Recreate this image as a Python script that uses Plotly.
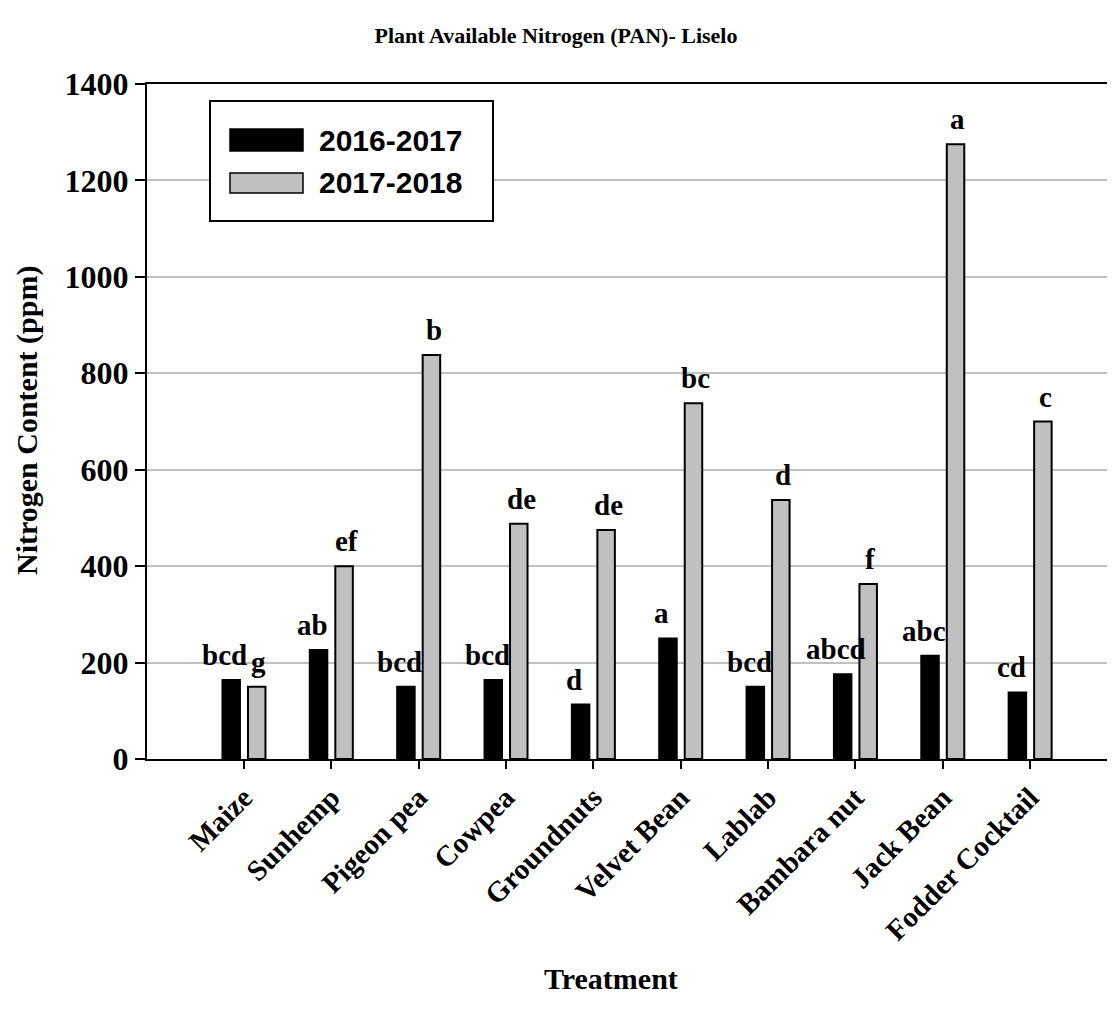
import plotly.graph_objects as go

categories = ["Maize", "Sunhemp", "Pigeon pea", "Cowpea", "Groundnuts",
              "Velvet Bean", "Lablab", "Bambara nut", "Jack Bean", "Fodder Cocktail"]
series_names = ["2016-2017", "2017-2018"]
values_2016 = [164, 226, 150, 164, 113, 250, 150, 176, 214, 138]
values_2017 = [150, 400, 838, 488, 475, 738, 537, 363, 1275, 700]
letters_2016 = ["bcd", "ab", "bcd", "bcd", "d", "a", "bcd", "abcd", "abc", "cd"]
letters_2017 = ["g", "ef", "b", "de", "de", "bc", "d", "f", "a", "c"]
y_ticks = [0, 200, 400, 600, 800, 1000, 1200, 1400]

SERIF = "Liberation Serif, Times New Roman, serif"
SANS = "Liberation Sans, Arial, sans-serif"
GREY = "#c0c0c0"

# The page body has an 8px margin; figure sized so that it fits the window exactly.
FIG_W, FIG_H = 1099, 1007
ML, MT, MR = 139, 76, 0
PLOT_H = 675
MB = FIG_H - MT - PLOT_H
PLOT_W = FIG_W - ML - MR
OFF = 8  # page offset

fig = go.Figure()
fig.add_trace(go.Bar(x=categories, y=values_2016, name=series_names[0],
                     marker=dict(color="black", line=dict(color="black", width=2)),
                     showlegend=False))
fig.add_trace(go.Bar(x=categories, y=values_2017, name=series_names[1],
                     marker=dict(color=GREY, line=dict(color="black", width=2)),
                     showlegend=False))

annotations = []
for cat, v, t in zip(categories, values_2016, letters_2016):
    annotations.append(dict(x=cat, y=v, text="<b>%s</b>" % t, xref="x", yref="y",
                            xanchor="center", yanchor="bottom", xshift=-19, yshift=7,
                            showarrow=False, font=dict(family=SERIF, size=29, color="black")))
for cat, v, t in zip(categories, values_2017, letters_2017):
    annotations.append(dict(x=cat, y=v, text="<b>%s</b>" % t, xref="x", yref="y",
                            xanchor="center", yanchor="bottom", xshift=15, yshift=7,
                            showarrow=False, font=dict(family=SERIF, size=29, color="black")))

# helpers: screen pixel -> paper coordinates of the plot area
def px(xs):
    return (xs - OFF - ML) / PLOT_W
def py(ys):
    return (MT + PLOT_H - (ys - OFF)) / PLOT_H

# Axis titles
annotations.append(dict(text="<b>Treatment</b>", xref="paper", yref="paper",
                        x=px(611), y=py(978), xanchor="center", yanchor="middle",
                        showarrow=False, font=dict(family=SERIF, size=30, color="black")))
annotations.append(dict(text="<b>Nitrogen Content (ppm)</b>", xref="paper", yref="paper",
                        x=px(27), y=py(421), xanchor="center", yanchor="middle", textangle=-90,
                        showarrow=False, font=dict(family=SERIF, size=30, color="black")))

# Legend box
shapes = [
    dict(type="rect", xref="paper", yref="paper", x0=px(210), x1=px(493), y0=py(221), y1=py(101),
         line=dict(color="black", width=2), fillcolor="white", layer="above"),
    dict(type="rect", xref="paper", yref="paper", x0=px(230), x1=px(303), y0=py(151), y1=py(129),
         line=dict(color="black", width=1.5), fillcolor="black", layer="above"),
    dict(type="rect", xref="paper", yref="paper", x0=px(230), x1=px(303), y0=py(193), y1=py(173),
         line=dict(color="black", width=1.5), fillcolor=GREY, layer="above"),
]
annotations.append(dict(text="<b>%s</b>" % series_names[0], xref="paper", yref="paper",
                        x=px(317), y=py(140), xanchor="left", yanchor="middle",
                        showarrow=False, font=dict(family=SANS, size=30, color="black")))
annotations.append(dict(text="<b>%s</b>" % series_names[1], xref="paper", yref="paper",
                        x=px(317), y=py(183), xanchor="left", yanchor="middle",
                        showarrow=False, font=dict(family=SANS, size=30, color="black")))

fig.update_layout(
    width=FIG_W, height=FIG_H,
    margin=dict(l=ML, r=MR, t=MT, b=MB),
    paper_bgcolor="white", plot_bgcolor="white",
    barmode="group", bargap=0.416, bargroupgap=0.314,
    title=dict(text="<b>Plant Available Nitrogen (PAN)- Liselo</b>", x=(556 - OFF) / FIG_W,
               xanchor="center", y=1 - (35 - OFF) / FIG_H, yanchor="middle",
               font=dict(family=SERIF, size=22, color="black")),
    annotations=annotations,
    shapes=shapes,
    xaxis=dict(type="category", range=[-1.11, 9.88], showline=True, linecolor="black", linewidth=2,
               mirror=True, ticks="outside", ticklen=8, tickwidth=1.5, tickcolor="black",
               tickangle=-45, showgrid=False, ticklabelstandoff=0,
               tickvals=categories, ticktext=["<b>%s</b>" % c for c in categories],
               tickfont=dict(family=SERIF, size=29, color="black")),
    yaxis=dict(range=[0, 1400], tickvals=y_ticks, ticktext=["<b>%d</b>" % t for t in y_ticks],
               showline=True, linecolor="black", linewidth=2, ticks="outside", ticklen=10,
               tickwidth=2, tickcolor="black", showgrid=True, gridcolor=GREY, gridwidth=2,
               zeroline=False, tickfont=dict(family=SERIF, size=32, color="black")),
)

fig.write_html("out.html")
